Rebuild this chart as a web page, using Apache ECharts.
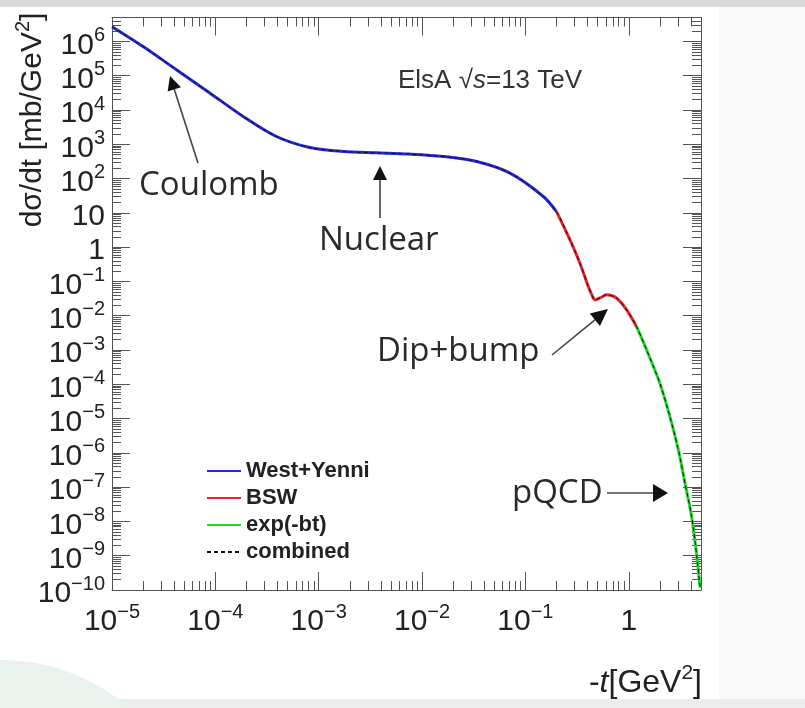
<!DOCTYPE html>
<html><head><meta charset="utf-8">
<script src="https://cdn.jsdelivr.net/npm/echarts@6/dist/echarts.min.js"></script>
<style>html,body{margin:0;padding:0;background:#fff;}#c{width:805px;height:708px;}</style>
</head><body><div id="c"></div>
<script>
// ---- data (t in GeV^2, dσ/dt in mb/GeV^2) ----
const westYenniT = [1e-5, 2.0e-5, 4.2e-5, 8.9e-5, 1.86e-4, 3.9e-4, 8.2e-4, 1.73e-3, 3.64e-3, 7.6e-3, 0.0161, 0.0338, 0.071, 0.149, 0.20];
const westYenniV = [2.7e6, 7.1e5, 1.5e5, 3.1e4, 6.5e3, 1690, 805, 617, 565, 518, 441, 315, 144, 30, 10.9];
const bswT = [0.20, 0.27, 0.337, 0.406, 0.454, 0.471, 0.527, 0.612, 0.764, 0.955, 1.19];
const bswV = [10.9, 1.63, 0.341, 0.0708, 0.0325, 0.029, 0.0332, 0.0406, 0.0325, 0.0148, 0.0048];
const expT = [1.19, 1.49, 2.0, 2.5, 3.02, 3.5, 4.06, 4.48, 4.9];
const expV = [4.8e-3, 1.0e-3, 1.07e-4, 1.14e-5, 1.22e-6, 1.3e-7, 1.38e-8, 1.47e-9, 1.2e-10];

const seriesNames = ['West+Yenni', 'BSW', 'exp(-bt)', 'combined'];
const xTickExps = [-5, -4, -3, -2, -1, 0];
const yTickExps = [-10, -9, -8, -7, -6, -5, -4, -3, -2, -1, 0, 1, 2, 3, 4, 5, 6];
const minorMultipliers = [2, 3, 4, 5, 6, 7, 8, 9];
const xRange = [1e-5, 5];
const yRange = [1e-10, 5e6];

// ---- helpers ----
const pairs = (ts, vs) => ts.map((t, i) => [t, vs[i]]);
const majorVals = exps => exps.map(e => Number('1e' + e));
function minorVals(exps, range) {
  const out = [];
  for (let e = exps[0] - 1; e <= exps[exps.length - 1]; e++) {
    minorMultipliers.forEach(k => {
      const v = Number(k + 'e' + e);
      if (v > range[0] && v < range[1]) out.push(v);
    });
  }
  return out;
}
function powLabel(v) {
  const e = Math.round(Math.log10(v));
  if (e === 0) return '{b|1}';
  if (e === 1) return '{b|10}';
  return '{b|10}{s|' + (e < 0 ? '\u2212' + (-e) : e) + '}';
}
const FONT = 'Liberation Sans, Arial, sans-serif';
const ANNO = 'Open Sans, sans-serif';
const rich = {
  b: {fontSize: 30, lineHeight: 18, padding: [8, 0, 0, 0], fontFamily: FONT, color: '#222'},
  s: {fontSize: 20, lineHeight: 14, padding: [0, 0, 12, 0], fontFamily: FONT, color: '#222'}
};
const frame = {show: true, onZero: false, lineStyle: {color: '#555', width: 1}};
const tickStyle = {color: '#555', width: 1};

function makeAxes(kind, exps, range, posMain, posOpp) {
  const maj = majorVals(exps), mnr = minorVals(exps, range);
  // labels split in two interleaved sets so that tightly packed labels are never dropped
  const labA = majorVals(exps.filter((e, i) => i % 2 === 0));
  const labB = majorVals(exps.filter((e, i) => i % 2 === 1));
  const margin = kind === 'x' ? 19 : 7;
  const base = {type: 'log', min: range[0], max: range[1], splitLine: {show: false}, minorTick: {show: false}};
  const lbl = vals => ({show: true, customValues: vals, formatter: powLabel, rich: rich, margin: margin,
                        showMinLabel: true, showMaxLabel: true, hideOverlap: false});
  return [
    Object.assign({}, base, {position: posMain, axisLine: frame,
      axisTick: {show: true, inside: true, length: 18, customValues: maj, lineStyle: tickStyle},
      axisLabel: lbl(labA)}),
    Object.assign({}, base, {position: posMain, axisLine: {show: false},
      axisTick: {show: true, inside: true, length: 9, customValues: mnr, lineStyle: tickStyle},
      axisLabel: lbl(labB)}),
    Object.assign({}, base, {position: posOpp, axisLine: frame,
      axisTick: {show: true, inside: true, length: 18, customValues: maj, lineStyle: tickStyle},
      axisLabel: {show: false}}),
    Object.assign({}, base, {position: posOpp, axisLine: {show: false},
      axisTick: {show: true, inside: true, length: 9, customValues: mnr, lineStyle: tickStyle},
      axisLabel: {show: false}})
  ];
}

const wy = pairs(westYenniT, westYenniV);
const bsw = pairs(bswT, bswV);
const ex = pairs(expT, expV);
const combined = wy.concat(bsw.slice(1), ex.slice(1));

function arrow(x1, y1, x2, y2, hl, hw) {
  const dx = x2 - x1, dy = y2 - y1, L = Math.hypot(dx, dy), ux = dx / L, uy = dy / L;
  const bx = x2 - ux * hl, by = y2 - uy * hl, px = -uy, py = ux;
  return [
    {type: 'line', z: 20, shape: {x1: x1, y1: y1, x2: bx + ux * 2, y2: by + uy * 2}, style: {stroke: '#444', lineWidth: 1.6}},
    {type: 'polygon', z: 20, shape: {points: [[x2, y2], [bx + px * hw / 2, by + py * hw / 2], [bx - px * hw / 2, by - py * hw / 2]]}, style: {fill: '#111'}}
  ];
}
function annoText(txt, x, y, size) {
  return {type: 'text', z: 20, x: x, y: y, style: {text: txt, fontFamily: ANNO, fontSize: size, fill: '#2a2a2a', verticalAlign: 'middle', align: 'left'}};
}

const chart = echarts.init(document.getElementById('c'), null, {renderer: 'canvas'});
const lineBase = {type: 'line', symbol: 'none', showSymbol: false, smooth: 0.3, xAxisIndex: 0, yAxisIndex: 0, animation: false, itemStyle: {opacity: 0}};
chart.setOption({
  animation: false,
  backgroundColor: '#fff',
  grid: {left: 112, right: 104, top: 17.5, bottom: 118, containLabel: false},
  xAxis: makeAxes('x', xTickExps, xRange, 'bottom', 'top'),
  yAxis: makeAxes('y', yTickExps, yRange, 'left', 'right'),
  legend: {
    left: 201, top: 455, orient: 'vertical', itemWidth: 34, itemHeight: 14, itemGap: 5,
    itemStyle: {opacity: 0},
    textStyle: {fontFamily: FONT, fontWeight: 'bold', fontSize: 22, lineHeight: 22, color: '#222'},
    data: seriesNames
  },
  series: [
    Object.assign({}, lineBase, {name: seriesNames[0], data: wy, color: '#2727d6', lineStyle: {width: 3, color: '#2727d6'}, z: 3}),
    Object.assign({}, lineBase, {name: seriesNames[1], data: bsw, color: '#e5262e', lineStyle: {width: 3, color: '#e5262e'}, z: 3}),
    Object.assign({}, lineBase, {name: seriesNames[2], data: ex, color: '#1fd62a', lineStyle: {width: 3, color: '#1fd62a'}, z: 3}),
    Object.assign({}, lineBase, {name: seriesNames[3], data: combined, color: '#111', lineStyle: {width: 1, color: '#111', type: [4, 3]}, z: 4})
  ],
  graphic: [
    {type: 'rect', z: -10, shape: {x: 0, y: 0, width: 805, height: 7}, style: {fill: '#d9d9d9'}},
    {type: 'rect', z: -10, shape: {x: 719, y: 7, width: 86, height: 701}, style: {fill: '#f8f8f8'}},
    {type: 'rect', z: -10, shape: {x: 0, y: 699, width: 805, height: 9}, style: {fill: '#ececec'}},
    {type: 'circle', z: -9, shape: {cx: 0, cy: 860, r: 200}, style: {fill: '#e9f2ec'}},
    {type: 'text', z: 20, x: 30, y: 120, rotation: Math.PI / 2,
      style: {text: '{a|d\u03c3/dt [mb/GeV}{s|2}{a|]}', align: 'center', verticalAlign: 'middle',
        rich: {a: {fontFamily: FONT, fontSize: 30, lineHeight: 30, padding: [6, 0, 0, 0], fill: '#222'},
               s: {fontFamily: FONT, fontSize: 20, lineHeight: 20, padding: [0, 0, 14, 0], fill: '#222'}}}},
    {type: 'text', z: 20, x: 702, y: 680,
      style: {text: '{a|-}{i|t}{a|[GeV}{s|2}{a|]}', align: 'right', verticalAlign: 'middle',
        rich: {a: {fontFamily: FONT, fontSize: 32, lineHeight: 32, padding: [6, 0, 0, 0], fill: '#222'},
               i: {fontFamily: FONT, fontStyle: 'italic', fontSize: 32, lineHeight: 32, padding: [6, 0, 0, 0], fill: '#222'},
               s: {fontFamily: FONT, fontSize: 21, lineHeight: 21, padding: [0, 0, 14, 0], fill: '#222'}}}},
    {type: 'text', z: 20, x: 398, y: 81,
      style: {text: '{a|ElsA \u221a}{i|s}{a|=13 TeV}', align: 'left', verticalAlign: 'middle',
        rich: {a: {fontFamily: FONT, fontSize: 26, fill: '#333'},
               i: {fontFamily: FONT, fontStyle: 'italic', fontSize: 26, fill: '#333'}}}},
    annoText('Coulomb', 139, 186, 33),
    annoText('Nuclear', 319, 241, 33),
    annoText('Dip+bump', 377, 352, 33),
    annoText('pQCD', 512, 494, 33)
  ].concat(
    arrow(198, 163, 170, 76, 14, 14),
    arrow(380, 218, 380, 166, 14, 14),
    arrow(552, 355, 608, 309, 17, 16),
    arrow(607, 493, 668, 493, 15, 18)
  )
});
</script></body></html>
